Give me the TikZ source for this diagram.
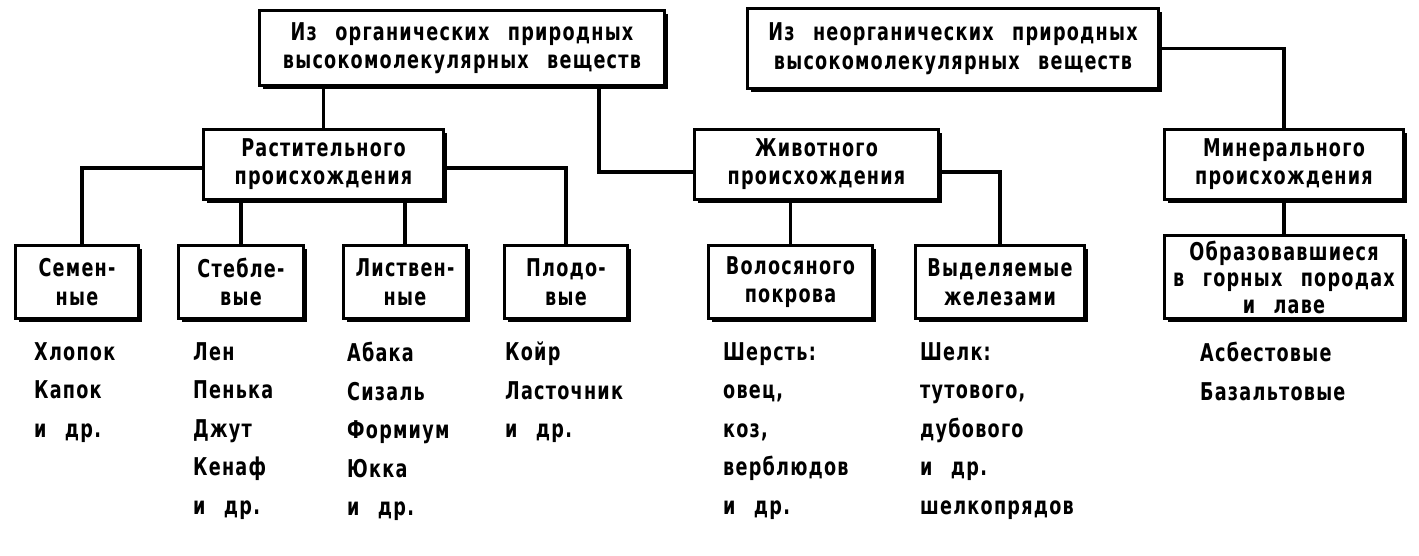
\documentclass[tikz,border=0pt]{standalone}
\usepackage{fontspec}
\setmainfont{DejaVu Sans}[FakeStretch=0.72,LetterSpace=5,WordSpace=2.5,UprightFont=* Bold]
\usetikzlibrary{shadows}
\begin{document}
\begin{tikzpicture}[x=1pt,y=-1pt,
  box/.style={draw, line width=3pt, fill=white, inner sep=0pt, align=center,
    font=\fontsize{24.5}{28.5}\selectfont,
    drop shadow={shadow xshift=3.5pt, shadow yshift=-3.5pt, opacity=1, fill=black}},
  conn/.style={line width=3.5pt},
  items/.style={anchor=north west, inner sep=0pt, align=left,
    font=\fontsize{24.5}{38.5}\selectfont}]
\useasboundingbox (0,0) rectangle (1419,555);
\node[box, minimum width=405pt, minimum height=75pt] (org) at (462,48) {Из органических природных\\высокомолекулярных веществ};
\node[box, minimum width=411pt, minimum height=80pt] (inorg) at (953,48.5) {Из неорганических природных\\высокомолекулярных веществ};
\node[box, minimum width=240pt, minimum height=70pt] (rast) at (323.5,164) {Растительного\\происхождения};
\node[box, minimum width=244pt, minimum height=70pt] (zhiv) at (816.5,164) {Животного\\происхождения};
\node[box, minimum width=239pt, minimum height=70pt] (min) at (1284,164) {Минерального\\происхождения};
\node[box, minimum width=123pt, minimum height=73pt] (sem) at (77,282) {Семен-\\ные};
\node[box, minimum width=125pt, minimum height=73pt] (steb) at (241,282) {Стебле-\\вые};
\node[box, minimum width=123pt, minimum height=73pt] (list) at (405,282) {Листвен-\\ные};
\node[box, minimum width=123pt, minimum height=73pt] (plod) at (566,282) {Плодо-\\вые};
\node[box, minimum width=164pt, minimum height=73pt] (vol) at (790.5,282) {Волосяного\\покрова};
\node[box, minimum width=169pt, minimum height=73pt] (vyd) at (1000,282) {Выделяемые\\железами};
\node[box, minimum width=239pt, minimum height=83pt, font=\fontsize{24.5}{26.5}\selectfont] (obr) at (1284,277) {Образовавшиеся\\в горных породах\\и лаве};

\draw[conn] (rast.north) -- (rast.north |- org.south);
\draw[conn] ([xshift=137pt]org.south) |- ([yshift=-8pt]zhiv.west);
\draw[conn] (inorg.east) -| (min.north);
\draw[conn] ([yshift=-4pt]rast.west) -| ([xshift=5pt]sem.north);
\draw[conn] ([yshift=-4pt]rast.east) -| (plod.north);
\draw[conn] (steb.north) -- (steb.north |- rast.south);
\draw[conn] (list.north) -- (list.north |- rast.south);
\draw[conn] (vol.north) -- (vol.north |- zhiv.south);
\draw[conn] ([yshift=-8pt]zhiv.east) -| (vyd.north);
\draw[conn] (obr.north) -- (min.south);

\node[items] (isem) at (34,342) {Хлопок\\Капок\\и др.};
\node[items] (isteb) at (193,342) {Лен\\Пенька\\Джут\\Кенаф\\и др.};
\node[items] (ilist) at (347,342) {Абака\\Сизаль\\Формиум\\Юкка\\и др.};
\node[items] (iplod) at (505,342) {Койр\\Ласточник\\и др.};
\node[items] (ivol) at (723,342) {Шерсть:\\овец,\\коз,\\верблюдов\\и др.};
\node[items] (ivyd) at (920,342) {Шелк:\\тутового,\\дубового\\и др.\\шелкопрядов};
\node[items] (iobr) at (1200,342) {Асбестовые\\Базальтовые};
\end{tikzpicture}
\end{document}
